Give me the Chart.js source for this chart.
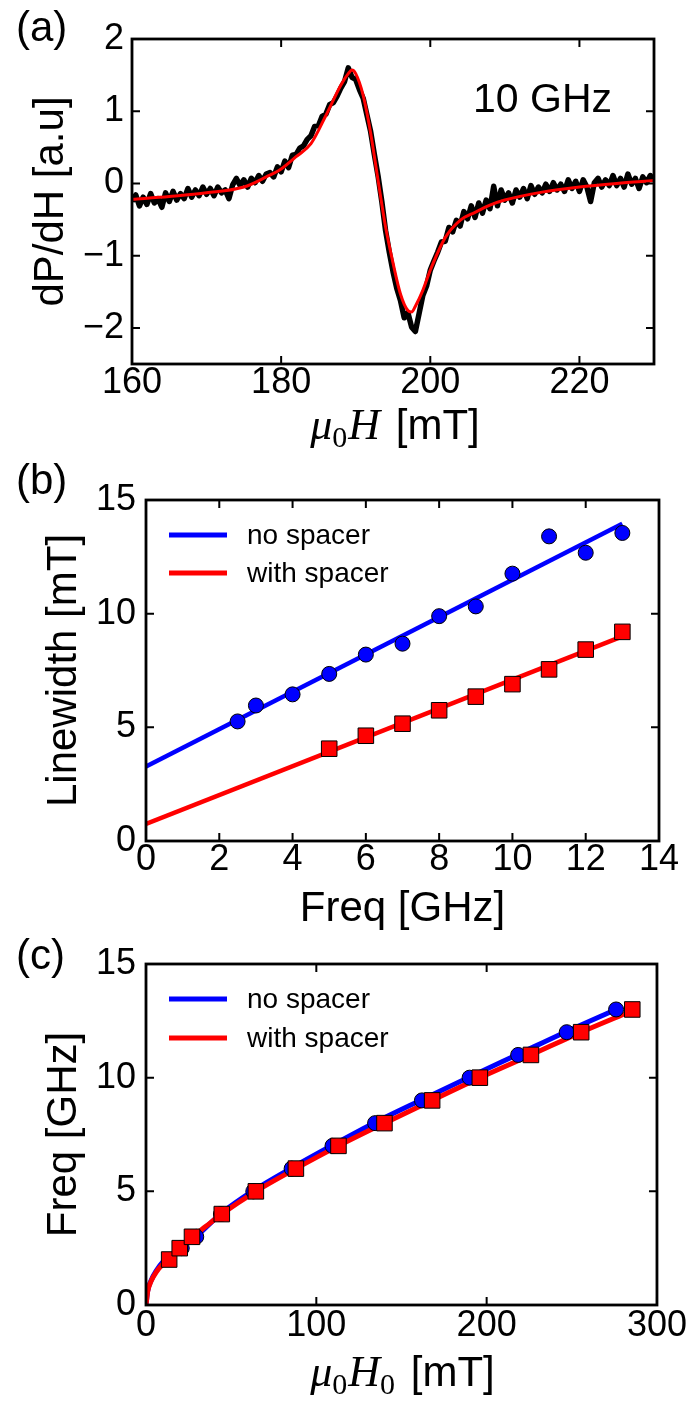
<!DOCTYPE html>
<html lang="en">
<head>
<meta charset="UTF-8">
<title>FMR spectrum, linewidth and dispersion</title>
<script src="https://cdn.jsdelivr.net/npm/chart.js@4.4.1/dist/chart.umd.min.js"></script>
<style>
    body { margin: 0; background: #fff; }
    .fig { position: relative; width: 690px; height: 1401px; }
    .panel { position: absolute; left: 0; width: 690px; }
    canvas { display: block; }
</style>
</head>
<body>
<div class="fig">
    <div class="panel" style="top:0;height:455px"><canvas id="chartA" width="690" height="455"></canvas></div>
    <div class="panel" style="top:455px;height:480px"><canvas id="chartB" width="690" height="480"></canvas></div>
    <div class="panel" style="top:935px;height:466px"><canvas id="chartC" width="690" height="466"></canvas></div>
</div>
<script>
// ---- (a) FMR derivative signal at 10 GHz ----
const fieldA = [
    160, 160.5, 161, 161.5, 162, 162.5, 163, 163.5, 164, 164.5, 165, 165.5, 166, 166.5, 167, 167.5, 168, 168.5, 169, 169.5,
    170, 170.5, 171, 171.5, 172, 172.5, 173, 173.5, 174, 174.5, 175, 175.5, 176, 176.5, 177, 177.5, 178, 178.5, 179, 179.5,
    180, 180.5, 181, 181.5, 182, 182.5, 183, 183.5, 184, 184.5, 185, 185.5, 186, 186.5, 187, 187.5, 188, 188.5, 189, 189.5,
    190, 190.5, 191, 191.5, 192, 192.5, 193, 193.5, 194, 194.5, 195, 195.5, 196, 196.5, 197, 197.5, 198, 198.5, 199, 199.5,
    200, 200.5, 201, 201.5, 202, 202.5, 203, 203.5, 204, 204.5, 205, 205.5, 206, 206.5, 207, 207.5, 208, 208.5, 209, 209.5,
    210, 210.5, 211, 211.5, 212, 212.5, 213, 213.5, 214, 214.5, 215, 215.5, 216, 216.5, 217, 217.5, 218, 218.5, 219, 219.5,
    220, 220.5, 221, 221.5, 222, 222.5, 223, 223.5, 224, 224.5, 225, 225.5, 226, 226.5, 227, 227.5, 228, 228.5, 229, 229.5,
    230
];
const signalA = [
    -0.25, -0.16, -0.31, -0.19, -0.29, -0.14, -0.27, -0.21, -0.33, -0.13, -0.25, -0.11, -0.23, -0.14, -0.21, -0.07, -0.19, -0.09, -0.17, -0.05,
    -0.15, -0.07, -0.17, -0.05, -0.13, -0.09, -0.21, -0.02, 0.07, -0.03, 0.05, -0.05, 0.07, 0.01, 0.11, 0.03, 0.13, 0.15, 0.09, 0.23,
    0.16, 0.31, 0.22, 0.39, 0.40, 0.49, 0.52, 0.61, 0.66, 0.79, 0.80, 0.93, 0.96, 1.09, 1.12, 1.21, 1.32, 1.41, 1.60, 1.47,
    1.44, 1.30, 1.18, 0.95, 0.72, 0.40, 0.10, -0.25, -0.65, -0.95, -1.22, -1.45, -1.62, -1.86, -1.79, -1.99, -2.05, -1.80, -1.55, -1.42,
    -1.20, -1.07, -0.95, -0.81, -0.80, -0.61, -0.67, -0.51, -0.59, -0.39, -0.49, -0.31, -0.47, -0.27, -0.41, -0.23, -0.35, -0.04, -0.31, -0.09,
    -0.23, -0.13, -0.27, -0.09, -0.19, -0.07, -0.21, -0.03, -0.15, -0.05, -0.13, -0.01, -0.11, 0.01, -0.09, -0.01, -0.11, 0.05, -0.07, 0.03,
    -0.11, 0.05, -0.05, -0.25, 0.01, 0.07, -0.05, 0.05, -0.03, 0.11, -0.03, 0.07, -0.05, 0.13, -0.01, 0.07, -0.07, 0.09, 0.01, 0.11,
    0.04
];
const fitFieldA = [160, 165, 170, 175, 178, 180, 182, 184, 186, 188, 189, 189.5, 190, 191, 192, 193, 194, 195, 196, 197, 197.5, 198, 199, 200, 202, 204, 206, 208, 210, 215, 220, 225, 230];
const fitSignalA = [-0.22, -0.18, -0.13, -0.05, 0.09, 0.20, 0.37, 0.55, 0.94, 1.36, 1.52, 1.57, 1.52, 1.22, 0.70, 0.04, -0.60, -1.10, -1.53, -1.76, -1.78, -1.70, -1.48, -1.20, -0.75, -0.51, -0.40, -0.30, -0.23, -0.12, -0.05, 0.00, 0.04];
const xTicksA = [160, 180, 200, 220];
const yTicksA = [-2, -1, 0, 1, 2];

// ---- (b) linewidth vs frequency ----
const freqNoSpacerB = [2.5, 3, 4, 5, 6, 7, 8, 9, 10, 11, 12, 13];
const widthNoSpacer = [5.26, 5.96, 6.45, 7.35, 8.20, 8.68, 9.89, 10.32, 11.76, 13.40, 12.68, 13.55];
const freqSpacerB = [5, 6, 7, 8, 9, 10, 11, 12, 13];
const widthSpacer = [4.06, 4.63, 5.16, 5.75, 6.35, 6.90, 7.55, 8.42, 9.20];
const fitFreqB = [0, 13];
const fitWidthNoSpacer = [3.28, 13.96];
const fitWidthSpacer = [0.75, 9.0];
const xTicksB = [0, 2, 4, 6, 8, 10, 12, 14];
const yTicksB = [0, 5, 10, 15];

// ---- (c) frequency vs resonance field ----
const fieldNoSpacerC = [21, 29.5, 44, 63, 85.5, 109.5, 134.5, 162, 190, 218.5, 247, 276];
const freqNoSpacerC = [2.5, 3, 4, 5, 6, 7, 8, 9, 10, 11, 12, 13];
const fieldSpacerC = [13.6, 19.8, 27, 44.5, 64.5, 88, 113, 140, 168, 196, 226, 255.5, 285.5];
const freqSpacerC = [2, 2.5, 3, 4, 5, 6, 7, 8, 9, 10, 11, 12, 13];
const fitFieldNoSpacerC = [0, 1, 3, 6, 10, 14, 21, 29.5, 44, 63, 85.5, 109.5, 134.5, 162, 190, 218.5, 247, 276];
const fitFreqNoSpacerC = [0, 0.62, 1.08, 1.50, 1.90, 2.15, 2.55, 3.02, 4.02, 5.03, 6.03, 7.03, 8.03, 9.03, 10.03, 11.03, 12.03, 13.0];
const fitFieldSpacerC = [0, 1, 3, 6, 10, 14, 20, 27, 35, 44.5, 64.5, 88, 113, 140, 168, 196, 226, 255.5, 284];
const fitFreqSpacerC = [0, 0.60, 1.05, 1.45, 1.80, 2.05, 2.50, 2.98, 3.45, 4.0, 5.0, 6.0, 7.0, 8.0, 9.0, 10.0, 11.0, 12.0, 12.9];
const xTicksC = [0, 100, 200, 300];
const yTicksC = [0, 5, 10, 15];

const SANS = '"Liberation Sans", Arial, sans-serif';
const SERIF = '"Liberation Serif", "Times New Roman", serif';
const TICK_FONT = { family: SANS, size: 36, lineHeight: 1 };
const TITLE_FONT = { family: SANS, size: 42 };
const BLUE = '#0000ff';
const RED = '#ff0000';

function pts(xs, ys) {
    return xs.map((x, i) => ({ x: x, y: ys[i] }));
}

function withMinus(v) {
    return String(v).replace('-', '\u2212');
}

// inward ticks on all four sides plus the box, matplotlib classic look
const framePlugin = {
    id: 'frame',
    afterDraw(chart) {
        const { ctx, chartArea: a } = chart;
        const x = chart.scales.x, y = chart.scales.y;
        const len = 8;
        ctx.save();
        ctx.strokeStyle = '#000';
        ctx.lineWidth = 2;
        ctx.beginPath();
        x.ticks.forEach(t => {
            const px = x.getPixelForValue(t.value);
            ctx.moveTo(px, a.bottom); ctx.lineTo(px, a.bottom - len);
            ctx.moveTo(px, a.top); ctx.lineTo(px, a.top + len);
        });
        y.ticks.forEach(t => {
            const py = y.getPixelForValue(t.value);
            ctx.moveTo(a.left, py); ctx.lineTo(a.left + len, py);
            ctx.moveTo(a.right, py); ctx.lineTo(a.right - len, py);
        });
        ctx.stroke();
        ctx.lineWidth = 2.8;
        ctx.strokeRect(a.left, a.top, a.right - a.left, a.bottom - a.top);
        ctx.restore();
    }
};

// free text: panel letters, annotation
const notesPlugin = {
    id: 'notes',
    afterDraw(chart, args, opts) {
        if (!opts.items) return;
        const ctx = chart.ctx;
        ctx.save();
        ctx.fillStyle = '#000';
        ctx.textBaseline = 'alphabetic';
        opts.items.forEach(it => {
            ctx.font = it.font;
            ctx.fillText(it.text, it.x, it.y);
        });
        ctx.restore();
    }
};

// axis title with math italics and subscripts
const mathTitlePlugin = {
    id: 'mathTitle',
    afterDraw(chart, args, opts) {
        if (!opts.parts) return;
        const ctx = chart.ctx;
        const a = chart.chartArea;
        ctx.save();
        ctx.fillStyle = '#000';
        ctx.textBaseline = 'alphabetic';
        let total = 0;
        opts.parts.forEach(p => { ctx.font = p.font; total += ctx.measureText(p.text).width + (p.gap || 0); });
        let cx = (a.left + a.right) / 2 + (opts.shift || 0) - total / 2;
        opts.parts.forEach(p => {
            ctx.font = p.font;
            ctx.fillText(p.text, cx, opts.y + (p.dy || 0));
            cx += ctx.measureText(p.text).width + (p.gap || 0);
        });
        ctx.restore();
    }
};

// legend with line samples in the upper left of the plot
const lineLegendPlugin = {
    id: 'lineLegend',
    afterDraw(chart, args, opts) {
        if (!opts.rows) return;
        const { ctx, chartArea: a } = chart;
        const entries = chart.data.datasets.filter(d => d.legendEntry);
        ctx.save();
        ctx.textBaseline = 'middle';
        ctx.font = '28px ' + SANS;
        entries.forEach((d, i) => {
            const yy = a.top + opts.rows[i];
            ctx.strokeStyle = d.borderColor;
            ctx.lineWidth = 5;
            ctx.beginPath();
            ctx.moveTo(a.left + 23, yy);
            ctx.lineTo(a.left + 81, yy);
            ctx.stroke();
            ctx.fillStyle = '#000';
            ctx.fillText(d.label, a.left + 101, yy + 1);
        });
        ctx.restore();
    }
};

Chart.register(framePlugin, notesPlugin, mathTitlePlugin, lineLegendPlugin);

function xAxis(min, max, ticks, pad, boxH, title) {
    return {
        type: 'linear', min: min, max: max,
        afterBuildTicks: s => { s.ticks = ticks.map(v => ({ value: v })); },
        afterFit: s => { s.height = boxH; },
        grid: { display: false, drawTicks: false },
        border: { display: false },
        ticks: { font: TICK_FONT, color: '#000', padding: pad, callback: withMinus, maxRotation: 0, autoSkip: false },
        title: title ? { display: true, text: title, font: TITLE_FONT, color: '#000', padding: { top: 0, bottom: 0 } } : { display: false }
    };
}

function yAxis(min, max, ticks, pad, boxW, title, titlePad) {
    return {
        type: 'linear', min: min, max: max,
        afterBuildTicks: s => { s.ticks = ticks.map(v => ({ value: v })); },
        afterFit: s => { s.width = boxW; },
        grid: { display: false, drawTicks: false },
        border: { display: false },
        ticks: { font: TICK_FONT, color: '#000', padding: pad, callback: withMinus, autoSkip: false },
        title: { display: true, text: title, font: TITLE_FONT, color: '#000', padding: { top: titlePad, bottom: 0 } }
    };
}

const baseOptions = {
    responsive: false,
    animation: false,
    events: []
};

// (a)
new Chart(document.getElementById('chartA'), {
    type: 'line',
    data: {
        datasets: [
            { label: 'data', data: pts(fieldA, signalA), borderColor: '#000', borderWidth: 5.5, pointRadius: 0, tension: 0, borderJoinStyle: 'round', order: 2 },
            { label: 'fit', data: pts(fitFieldA, fitSignalA), borderColor: RED, borderWidth: 3, pointRadius: 0, cubicInterpolationMode: 'monotone', order: 1 }
        ]
    },
    options: Object.assign({}, baseOptions, {
        layout: { padding: { left: 0, top: 39, right: 36, bottom: 0 } },
        scales: {
            x: xAxis(160, 230, xTicksA, 1, 91, null),
            y: yAxis(-2.5, 2, yTicksA, 8, 132, 'dP/dH [a.u]', 26)
        },
        plugins: {
            legend: { display: false },
            tooltip: { enabled: false },
            notes: { items: [
                { text: '(a)', x: 16, y: 41, font: '42px ' + SANS },
                { text: '10 GHz', x: 473, y: 112, font: '41px ' + SANS }
            ] },
            mathTitle: { y: 439, shift: 2, parts: [
                { text: '\u03bc', font: 'italic 44px ' + SERIF },
                { text: '0', font: '30px ' + SERIF, dy: 8, gap: 1 },
                { text: 'H', font: 'italic 44px ' + SERIF, gap: 4 },
                { text: ' [mT]', font: '42px ' + SANS }
            ] }
        }
    })
});

// (b)
new Chart(document.getElementById('chartB'), {
    type: 'line',
    data: {
        datasets: [
            { label: 'no spacer', legendEntry: true, data: pts(fitFreqB, fitWidthNoSpacer), borderColor: BLUE, borderWidth: 4.5, pointRadius: 0, order: 4 },
            { label: 'with spacer', legendEntry: true, data: pts(fitFreqB, fitWidthSpacer), borderColor: RED, borderWidth: 4.5, pointRadius: 0, order: 3 },
            { label: 'no spacer data', data: pts(freqNoSpacerB, widthNoSpacer), showLine: false, pointStyle: 'circle', pointRadius: 7.5, pointBackgroundColor: BLUE, pointBorderColor: '#000', pointBorderWidth: 1, order: 2 },
            { label: 'with spacer data', data: pts(freqSpacerB, widthSpacer), showLine: false, pointStyle: 'rect', pointRadius: 11, pointBackgroundColor: RED, pointBorderColor: '#000', pointBorderWidth: 1, order: 1 }
        ]
    },
    options: Object.assign({}, baseOptions, {
        layout: { padding: { left: 0, top: 45, right: 31, bottom: 0 } },
        scales: {
            x: xAxis(0, 14, xTicksB, 1, 94, 'Freq [GHz]'),
            y: yAxis(0, 15, yTicksB, 10, 146, 'Linewidth [mT]', 39)
        },
        plugins: {
            legend: { display: false },
            tooltip: { enabled: false },
            notes: { items: [{ text: '(b)', x: 16, y: 39, font: '42px ' + SANS }] },
            lineLegend: { rows: [35, 73] }
        }
    })
});

// (c)
new Chart(document.getElementById('chartC'), {
    type: 'line',
    data: {
        datasets: [
            { label: 'no spacer', legendEntry: true, data: pts(fitFieldNoSpacerC, fitFreqNoSpacerC), borderColor: BLUE, borderWidth: 5, pointRadius: 0, cubicInterpolationMode: 'monotone', order: 4 },
            { label: 'with spacer', legendEntry: true, data: pts(fitFieldSpacerC, fitFreqSpacerC), borderColor: RED, borderWidth: 5, pointRadius: 0, cubicInterpolationMode: 'monotone', order: 3 },
            { label: 'no spacer data', data: pts(fieldNoSpacerC, freqNoSpacerC), showLine: false, pointStyle: 'circle', pointRadius: 7.5, pointBackgroundColor: BLUE, pointBorderColor: '#000', pointBorderWidth: 1, order: 2 },
            { label: 'with spacer data', data: pts(fieldSpacerC, freqSpacerC), showLine: false, pointStyle: 'rect', pointRadius: 11, pointBackgroundColor: RED, pointBorderColor: '#000', pointBorderWidth: 1, order: 1 }
        ]
    },
    options: Object.assign({}, baseOptions, {
        layout: { padding: { left: 0, top: 29, right: 32, bottom: 0 } },
        scales: {
            x: xAxis(0, 300, xTicksC, 3, 96, null),
            y: yAxis(0, 15, yTicksC, 10, 146, 'Freq [GHz]', 39)
        },
        plugins: {
            legend: { display: false },
            tooltip: { enabled: false },
            notes: { items: [{ text: '(c)', x: 16, y: 34, font: '42px ' + SANS }] },
            lineLegend: { rows: [35, 74] },
            mathTitle: { y: 451, shift: 1, parts: [
                { text: '\u03bc', font: 'italic 44px ' + SERIF },
                { text: '0', font: '30px ' + SERIF, dy: 8, gap: 1 },
                { text: 'H', font: 'italic 44px ' + SERIF },
                { text: '0', font: '30px ' + SERIF, dy: 8, gap: 4 },
                { text: ' [mT]', font: '42px ' + SANS }
            ] }
        }
    })
});
</script>
</body>
</html>
